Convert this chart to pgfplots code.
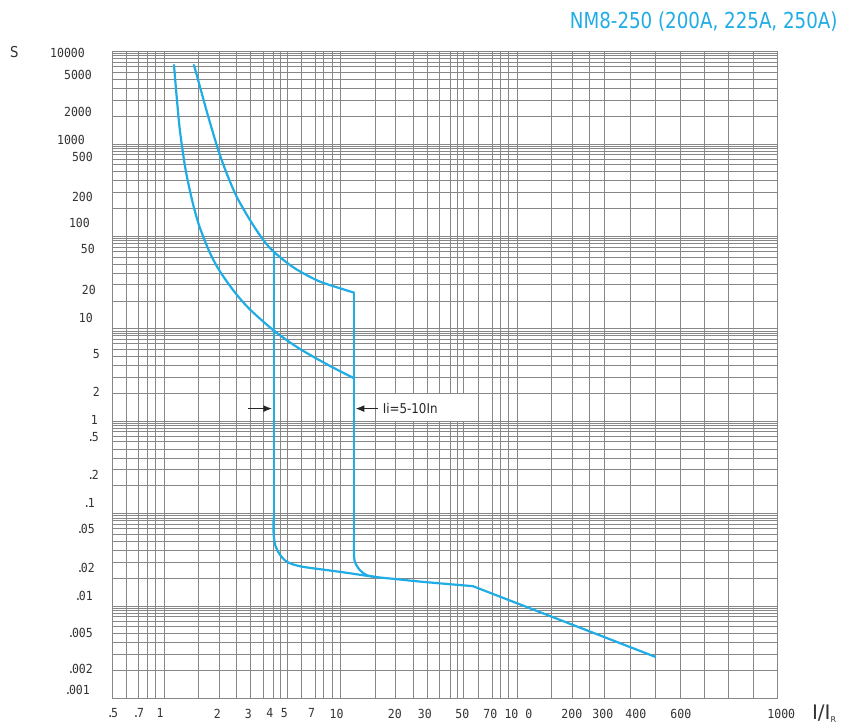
\documentclass[border=0pt]{standalone}
\usepackage{pgfplots}
\pgfplotsset{compat=1.18}
\usetikzlibrary{arrows.meta}
\usepackage{fontspec}
\setmainfont{DejaVu Sans}
\newfontfamily\monofont{DejaVu Sans Mono}[FakeStretch=0.92]
\newfontfamily\narrowfont{DejaVu Sans}[FakeStretch=0.88]
\newfontfamily\titlefont{DejaVu Sans}[FakeStretch=0.83]
\definecolor{curvec}{RGB}{32,172,228}
\definecolor{gridc}{RGB}{135,135,135}
\newcommand\tickfont{\monofont\fontsize{12.5bp}{14bp}\selectfont}
\newcommand\p{.\kern-2.5bp}
\tikzset{crv/.style={curvec, no markers, line width=2.2bp, line join=round, line cap=round}}
\begin{document}
\begin{tikzpicture}
\begin{axis}[
 at={(0,0)}, anchor=south west,
 scale only axis, width=664.8bp, height=647bp,
 xmin=112.5, xmax=777.3, ymode=log, ymin=1e-3, ymax=1e4,
 clip=false,
 axis line style={gridc, line width=1bp},
 major tick length=0pt, minor tick length=0pt,
 grid=minor,
 minor grid style={gridc, line width=0.9bp},
 minor xtick={126.5,138.7,147.3,155.5,164,198.7,219.3,236.8,250.7,263.7,273.5,280.5,287.3,301.7,315.5,323.5,332.2,340.2,375.2,396,413.5,427.2,440,450.5,457.2,464,478.2,492.2,500.6,508.8,517.2,551.7,572.7,590,604.2,630.5,655.7,680.3,704.7,729,753.7},
 minor ytick={0.002,0.003,0.004,0.005,0.006,0.0069,0.0077,0.0084,0.009,0.0095,
  0.01,0.02,0.03,0.04,0.05,0.06,0.069,0.077,0.084,0.09,0.095,
  0.1,0.2,0.3,0.4,0.5,0.6,0.69,0.77,0.84,0.9,0.95,
  1,2,3,4,5,6,6.9,7.7,8.4,9,9.5,
  10,20,30,40,50,60,69,77,84,90,95,
  100,200,300,400,500,600,690,770,840,900,950,
  1000,2000,3000,4000,5000,6000,6900,7700,8400,9000,9500},
 xtick={138.3,160,217.3,248.3,270,284.3,311.7,336.7,395,425,462.5,490.5,518.5,572,603,636,681},
 xticklabels={\mbox{\p7},\mbox{1},\mbox{2},\mbox{3},\mbox{4},\mbox{5},\mbox{7},\mbox{10},\mbox{20},\mbox{30},\mbox{50},\mbox{70},\mbox{10 0},\mbox{200},\mbox{300},\mbox{400},\mbox{600}},
 xticklabel style={font=\tickfont, text=black!80, inner sep=0pt, yshift=-10bp},
 ytick={9610,5597,2243,1108,720,270,139,72.8,26.4,13.05,5.37,2.097,1.036,0.6835,0.2633,0.1299,0.0680,0.02576,0.01302,0.005177,0.002081,0.001242},
 yticklabels={\mbox{10000\kern15bp},\mbox{5000\kern8bp},\mbox{2000\kern8bp},\mbox{1000\kern15bp},\mbox{500\kern7bp},\mbox{200\kern7bp},\mbox{100\kern10bp},\mbox{50\kern5bp},\mbox{20\kern4bp},\mbox{10\kern7bp},\mbox{5},\mbox{2},\mbox{1\kern2bp},\mbox{\p5\kern1bp},\mbox{\p2\kern1bp},\mbox{\p1\kern5bp},\mbox{\p05\kern5bp},\mbox{\p02\kern5bp},\mbox{\p01\kern7bp},\mbox{\p005\kern7bp},\mbox{\p002\kern7bp},\mbox{\p001\kern10bp}},
 yticklabel style={font=\tickfont, text=black!80, inner sep=0pt, xshift=-12.5bp},
]
% white box behind annotation
\fill[white] (axis cs:378.5,1.956) rectangle (axis cs:478,1.0104);
% lower curve
\addplot[crv, smooth] coordinates {(174,7180) (177,3002) (180,1387) (185,580) (190,311) (195,186.7) (200,123.8) (210,66.4) (220,41.9) (235,24.8) (250,16.25) (275,9.39) (300,6.07) (330,3.977) (353.5,2.949)};
% upper curve
\addplot[crv, smooth] coordinates {(194,7180) (200,4181) (208.3,1981) (218.3,864) (226.7,483) (236.7,270) (250,151) (263.3,91.8) (273.7,68.6) (290,49.2) (303.3,40.0) (320,32.5) (336.7,28.25) (354,24.7)};
% right vertical and bend
\addplot[crv] coordinates {(354,24.7) (354,0.0387)};
\addplot[crv, smooth] coordinates {(354,0.06) (354,0.0387) (355,0.0301) (360,0.02451) (366.7,0.02164) (375.3,0.0207)};
% left vertical, bend and tail
\addplot[crv] coordinates {(273.7,68.6) (273.7,0.061)};
\addplot[crv, smooth] coordinates {(273.7,0.09) (273.7,0.061) (275.3,0.0457) (280,0.0361) (287.3,0.0301) (301.7,0.0268) (340,0.0235) (375.3,0.0207) (396.7,0.01958) (423,0.01831) (473,0.01645)};
\addplot[crv] coordinates {(473,0.01645) (655.3,0.00283)};
% arrows
\draw[black!85, line width=1.6bp, -{Latex[length=9bp,width=7bp]}] (axis cs:247.7,1.373) -- (axis cs:272.4,1.373);
\draw[black!85, line width=1.6bp, -{Latex[length=9bp,width=7bp]}] (axis cs:378,1.373) -- (axis cs:355.4,1.373);
\node[anchor=west, inner sep=0pt, text=black!85, font=\narrowfont\fontsize{13.5bp}{14bp}\selectfont] at (axis cs:382.7,1.373) {Ii=5-10In};
% edge tick labels
\node[anchor=north, inner sep=0pt, yshift=-10bp, font=\tickfont, text=black!80] at (axis cs:112.5,1e-3) {\p5};
\node[anchor=north, inner sep=0pt, yshift=-10bp, font=\tickfont, text=black!80] at (axis cs:781.5,1e-3) {1000};
\end{axis}
\node[anchor=east, inner sep=0pt, text=curvec, font=\titlefont\fontsize{22bp}{24bp}\selectfont] at (725.5bp,676.7bp) {NM8-250 (200A, 225A, 250A)};
\node[inner sep=0pt, text=black!80, font=\narrowfont\fontsize{15bp}{16bp}\selectfont] at (-98.3bp,646.2bp) {S};
\node[anchor=base west, inner sep=0pt, text=black!80, font=\fontsize{20bp}{22bp}\selectfont] at (699.5bp,-21.3bp) {I/I\raisebox{-2.5bp}{\fontsize{8bp}{8bp}\selectfont R}};
\pgfresetboundingbox
\path (-112.5bp,-25.3bp) rectangle (733.7bp,698.7bp);
\end{tikzpicture}
\end{document}
